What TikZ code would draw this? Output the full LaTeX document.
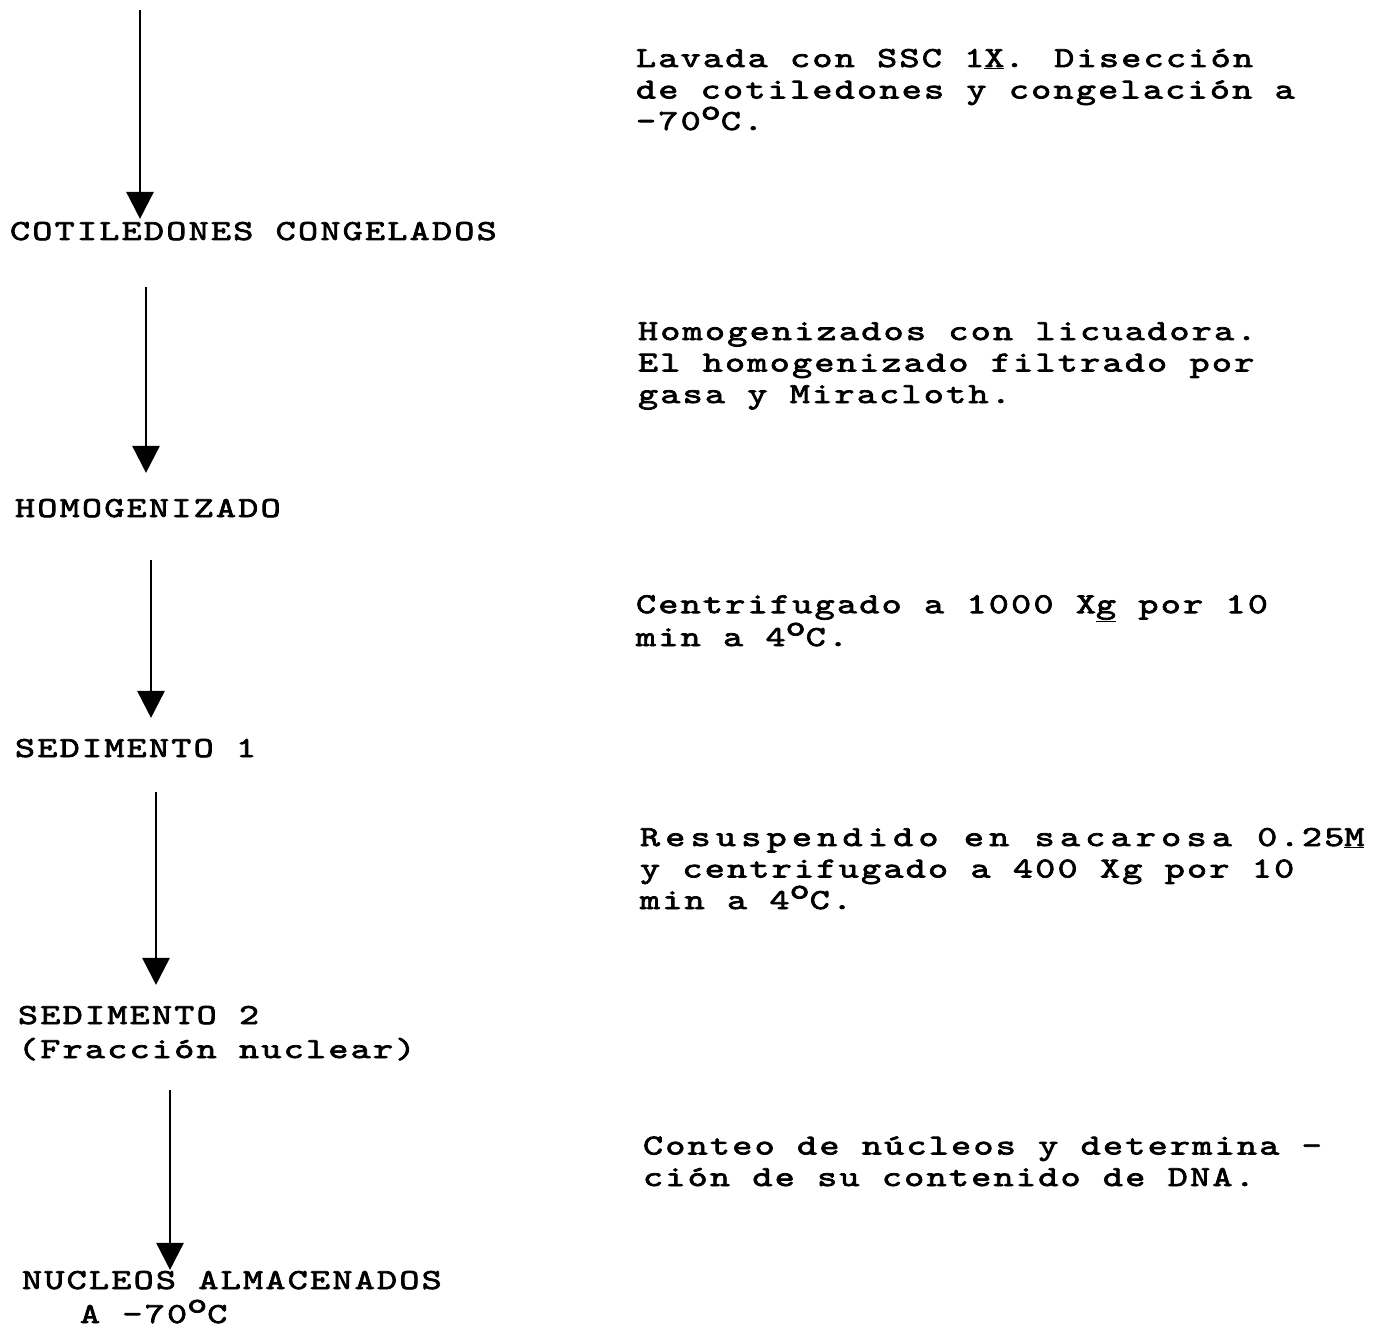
\documentclass[tikz,border=0pt]{standalone}
\usepackage{fontspec}
\usetikzlibrary{arrows.meta}
\newfontfamily\maquina{lmmono10-regular.otf}[FakeStretch=1.32,FakeBold=2.5,LetterSpace=7.7]
\newcommand{\grado}{\raisebox{0.36em}{o}}
\tikzset{
  paso/.style={anchor=base west, inner sep=0pt, outer sep=0pt, align=left,
    font=\maquina\fontsize{29}{31.5}\selectfont},
  flow/.style={line width=2.6pt, -{Triangle[length=27pt,width=27pt]}}
}
\begin{document}
\begin{tikzpicture}[x=1pt,y=-1pt]
  \useasboundingbox (0,0) rectangle (1392,1332);
  \draw
    (10,240) node[paso] (cot) {COTILEDONES CONGELADOS}
    (15,517) node[paso] (homo) {HOMOGENIZADO}
    (15,757) node[paso] (sed1) {SEDIMENTO 1}
    (18,1058) node[paso] (sed2) {SEDIMENTO 2\\[2.5pt](Fracción nuclear)}
    (22,1323) node[paso] (nuc) {NUCLEOS ALMACENADOS\\[2.5pt]\hspace*{58pt}A -70\grado C};
  % pasos del procedimiento
  \draw
    (636,130) node[paso] (lav) {Lavada con SSC 1\underline{X}. Disección\\de cotiledones y congelación a\\-70\grado C.}
    (638,403) node[paso] (lic) {Homogenizados con licuadora.\\El homogenizado filtrado por\\gasa y Miracloth.}
    (636,646) node[paso] (cen1) {Centrifugado a 1000 X\underline{g} por 10\\min a 4\grado C.}
    (640,909) node[paso] (cen2) {{\addfontfeature{LetterSpace=18}Resuspendido en sacarosa }0.25\underline{M}\\y centrifugado a 400 Xg por 10\\min a 4\grado C.}
    (643,1186) node[paso] (dna) {Conteo de núcleos y determina -\\ción de su contenido de DNA.};
  \coordinate (t1) at (140,10);
  \coordinate (t2) at (146,287);
  \coordinate (t3) at (151,560);
  \coordinate (t4) at (156,792);
  \coordinate (t5) at (170,1090);
  \begin{scope}[flow]
    \draw[shorten >=3pt] (t1) to (t1 |- cot.north);
    \draw[shorten >=26pt] (t2) to (t2 |- homo.north);
    \draw[shorten >=21pt] (t3) to (t3 |- sed1.north);
    \draw[shorten >=21pt] (t4) to (t4 |- sed2.north);
    \draw[shorten >=1pt] (t5) to (t5 |- nuc.north);
  \end{scope}
\end{tikzpicture}
\end{document}
